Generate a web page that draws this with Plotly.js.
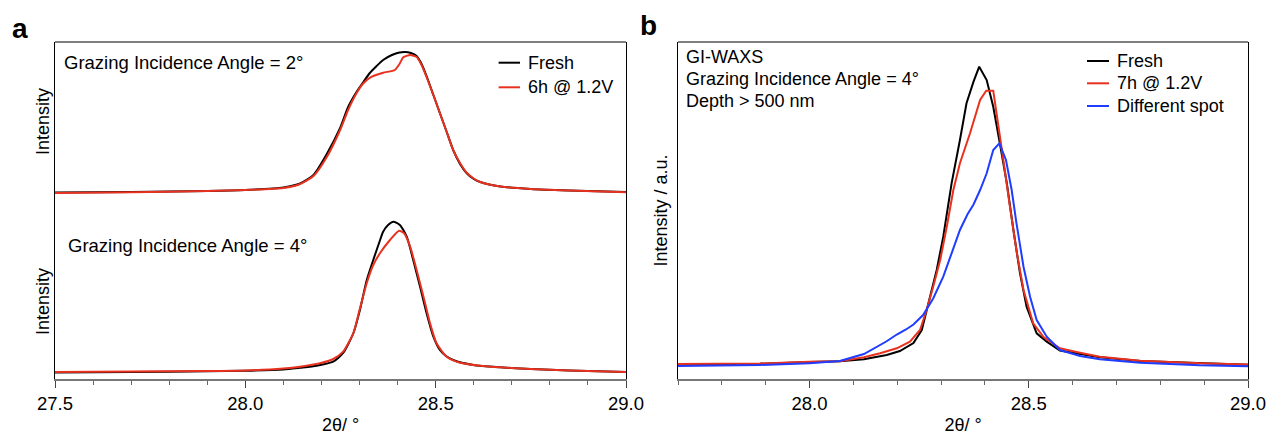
<!DOCTYPE html>
<html>
<head>
<meta charset="utf-8">
<script src="https://cdn.plot.ly/plotly-3.0.1.min.js"></script>
<style>html,body{margin:0;padding:0;background:#fff;}#chart{width:1268px;height:435px;}</style>
</head>
<body>
<div id="chart"></div>
<script>
// ---------- Panel a, grazing incidence angle = 2° (intensity a.u., before offset) ----------
const a2Theta_fresh = [27.50,27.70,27.90,28.00,28.10,28.144,28.179,28.214,28.249,28.270,28.292,28.310,28.327,28.345,28.362,28.385,28.405,28.419,28.435,28.450,28.463,28.476,28.494,28.511,28.529,28.546,28.564,28.581,28.600,28.617,28.670,28.750,28.850,29.00];
const a2Int_fresh   = [-0.5,0,1,2,4.5,8.5,17,38,64,85,100,110,119,126,132,137,139.5,140,139,136,128,116,97,79,60,42,28,19,13,10,5.5,3,1.5,0];
const a2Theta_aged  = [27.50,27.70,27.90,28.00,28.10,28.144,28.179,28.214,28.249,28.270,28.292,28.310,28.332,28.362,28.393,28.405,28.415,28.433,28.450,28.463,28.476,28.494,28.511,28.529,28.546,28.564,28.581,28.600,28.617,28.670,28.750,28.850,29.00];
const a2Int_aged    = [-1,-0.2,1,2,4,8,16,35,62,82,98.7,108.7,115.3,119.3,122,128,134.7,137,135,127,115,97,79,60,42,29,19.5,13.5,10,5.5,3,1.5,-0.2];
const a2Offset = 180.3;

// ---------- Panel a, grazing incidence angle = 4° ----------
const a4Theta_fresh = [27.50,27.70,27.90,28.00,28.10,28.144,28.187,28.231,28.257,28.284,28.301,28.319,28.336,28.354,28.362,28.375,28.389,28.406,28.424,28.441,28.459,28.476,28.494,28.511,28.529,28.546,28.599,28.669,28.750,28.850,29.00];
const a4Int_fresh   = [-0.2,0.3,1,1.5,2.8,4.6,6.6,10.6,19.3,39.3,62.3,92.3,112.3,132.3,140.6,147.3,150.6,147.3,135.6,112.3,85.6,59.3,35.6,22.3,15.8,12.3,7.3,5,3.3,1.8,0.3];
const a4Theta_aged  = [27.50,27.70,27.90,28.00,28.10,28.144,28.196,28.231,28.257,28.284,28.300,28.319,28.336,28.354,28.380,28.404,28.417,28.433,28.450,28.468,28.485,28.502,28.529,28.564,28.617,28.669,28.750,28.850,29.00];
const a4Int_aged    = [0.3,0.8,1.3,1.8,3.8,5.6,9,13.3,20.6,39.3,62.3,89.3,107.3,119.3,132.3,141.6,139,125.6,102.3,75.6,49.3,29.3,15.6,9.6,6.6,5,3.3,1.8,0.3];

// ---------- Panel b, GI-WAXS, angle = 4° ----------
const bTheta_fresh = [27.70,27.80,27.887,28.00,28.069,28.124,28.161,28.176,28.206,28.237,28.256,28.271,28.290,28.305,28.324,28.343,28.358,28.374,28.387,28.404,28.419,28.434,28.450,28.465,28.480,28.495,28.518,28.541,28.555,28.571,28.617,28.662,28.754,28.890,29.00];
const bInt_fresh   = [0.2,0.5,0.8,2.5,3.2,5.2,8.5,9.5,13.5,21.5,34.5,61.2,94.5,127.8,181.2,224.5,261.2,282.8,297.8,284.5,257.8,221.2,181.2,134.5,91.2,57.8,31.2,22.8,18.5,14,10.5,7.2,3.5,1.2,-0.2];
const bTheta_aged  = [27.70,27.80,27.887,28.00,28.069,28.124,28.161,28.199,28.229,28.252,28.267,28.282,28.298,28.313,28.328,28.343,28.366,28.389,28.403,28.419,28.427,28.442,28.457,28.473,28.488,28.510,28.533,28.571,28.617,28.662,28.754,28.890,29.00];
const bInt_aged    = [0.5,0.8,1,2.8,3.2,7.2,11.2,16.2,22.8,34.5,54.5,77.8,104.5,137.8,174.5,201.2,231.2,264.5,273.8,273.8,247.8,204.5,157.8,111.2,74.5,41.2,27.8,16.2,11.8,7.8,3.8,1.2,0];
const bTheta_spot  = [27.70,27.80,27.887,28.00,28.069,28.124,28.150,28.175,28.199,28.220,28.237,28.259,28.282,28.305,28.324,28.343,28.360,28.374,28.389,28.404,28.419,28.433,28.448,28.461,28.472,28.488,28.503,28.518,28.541,28.571,28.617,28.662,28.754,28.890,29.00];
const bInt_spot    = [-1.5,-1,-0.5,1.2,3.5,10.5,17,23,30,35,40,49.5,66,87.8,111.2,134.5,150,160,174.5,191.2,214.5,221.2,204.5,174.5,141.2,97.8,67.8,44.5,27.8,14.5,8.5,5.2,1.8,-0.8,-1.8];

const legendA = ["Fresh", "6h @ 1.2V"];
const legendB = ["Fresh", "7h @ 1.2V", "Different spot"];
const seriesColors = {fresh: "#000000", aged: "#e8321f", spot: "#1f3cff"};

// ---------- geometry helpers (pixel -> paper) ----------
const W = 1268, H = 435;
const px = v => v / W;
const py = v => 1 - v / H;
const FONT = "Liberation Sans, Arial, Helvetica, sans-serif";

const traces = [
  {x: a2Theta_fresh, y: a2Int_fresh.map(v => v + a2Offset), xaxis: "x", yaxis: "y", mode: "lines", line: {color: seriesColors.fresh, width: 2, shape: "spline", smoothing: 0.6}, showlegend: false},
  {x: a2Theta_aged,  y: a2Int_aged.map(v => v + a2Offset),  xaxis: "x", yaxis: "y", mode: "lines", line: {color: seriesColors.aged, width: 2, shape: "spline", smoothing: 0.6}, showlegend: false},
  {x: a4Theta_fresh, y: a4Int_fresh, xaxis: "x", yaxis: "y", mode: "lines", line: {color: seriesColors.fresh, width: 2, shape: "spline", smoothing: 0.6}, showlegend: false},
  {x: a4Theta_aged,  y: a4Int_aged,  xaxis: "x", yaxis: "y", mode: "lines", line: {color: seriesColors.aged, width: 2, shape: "spline", smoothing: 0.6}, showlegend: false},
  {x: bTheta_fresh, y: bInt_fresh, xaxis: "x2", yaxis: "y2", mode: "lines", line: {color: seriesColors.fresh, width: 2}, showlegend: false},
  {x: bTheta_aged,  y: bInt_aged,  xaxis: "x2", yaxis: "y2", mode: "lines", line: {color: seriesColors.aged, width: 2}, showlegend: false},
  {x: bTheta_spot,  y: bInt_spot,  xaxis: "x2", yaxis: "y2", mode: "lines", line: {color: seriesColors.spot, width: 2}, showlegend: false}
];

const yDom = [py(379), py(42)];
const xAxisCommon = {
  showline: true, linecolor: "#777", linewidth: 1.5,
  ticks: "outside", ticklen: 7, tickwidth: 1, tickcolor: "#444",
  dtick: 0.5, tick0: 27.5, tickformat: ".1f",
  minor: {dtick: 0.1, tick0: 27.5, ticks: "outside", ticklen: 4, tickcolor: "#666", showgrid: false},
  showgrid: false, zeroline: false,
  tickfont: {family: FONT, size: 18.5, color: "#000"},
  title: {text: "2θ/ °", font: {family: FONT, size: 18, color: "#000"}, standoff: 8},
  fixedrange: true
};
const yAxisCommon = {
  showline: true, linecolor: "#000", linewidth: 1, mirror: true,
  showticklabels: false, ticks: "", showgrid: false, zeroline: false, fixedrange: true
};

const layout = {
  width: W, height: H,
  margin: {l: 0, r: 0, t: 0, b: 0},
  paper_bgcolor: "#fff", plot_bgcolor: "#fff",
  font: {family: FONT, color: "#000"},
  xaxis: Object.assign({}, xAxisCommon, {domain: [px(55), px(626)], range: [27.5, 29.0], anchor: "y"}),
  yaxis: Object.assign({}, yAxisCommon, {domain: yDom, range: [-6.7, 330.3], anchor: "x"}),
  xaxis2: Object.assign({}, xAxisCommon, {domain: [px(678), px(1248)], range: [27.7, 29.0], anchor: "y2"}),
  yaxis2: Object.assign({}, yAxisCommon, {domain: yDom, range: [-14.5, 322.5], anchor: "x2",
    title: {text: "Intensity / a.u.", font: {family: FONT, size: 18, color: "#000"}, standoff: 4}}),
  shapes: [
    {type: "line", xref: "x domain", yref: "y domain", x0: 0, x1: 1, y0: 1, y1: 1, line: {color: "#000", width: 1}},
    {type: "line", xref: "x2 domain", yref: "y2 domain", x0: 0, x1: 1, y0: 1, y1: 1, line: {color: "#000", width: 1}},
    {type: "line", xref: "paper", yref: "paper", x0: px(498.6), x1: px(520), y0: py(62.7), y1: py(62.7), line: {color: seriesColors.fresh, width: 2}},
    {type: "line", xref: "paper", yref: "paper", x0: px(498.6), x1: px(520), y0: py(87.3), y1: py(87.3), line: {color: seriesColors.aged, width: 2}},
    {type: "line", xref: "paper", yref: "paper", x0: px(1087), x1: px(1109), y0: py(61), y1: py(61), line: {color: seriesColors.fresh, width: 2}},
    {type: "line", xref: "paper", yref: "paper", x0: px(1087), x1: px(1109), y0: py(83.3), y1: py(83.3), line: {color: seriesColors.aged, width: 2}},
    {type: "line", xref: "paper", yref: "paper", x0: px(1087), x1: px(1109), y0: py(106), y1: py(106), line: {color: seriesColors.spot, width: 2}}
  ],
  annotations: [
    {text: "<b>a</b>", xref: "paper", yref: "paper", x: px(10), y: py(28), xanchor: "left", yanchor: "middle", showarrow: false, font: {family: FONT, size: 28, color: "#000"}},
    {text: "<b>b</b>", xref: "paper", yref: "paper", x: px(638), y: py(26), xanchor: "left", yanchor: "middle", showarrow: false, font: {family: FONT, size: 28, color: "#000"}},
    {text: "Grazing Incidence Angle = 2°", xref: "paper", yref: "paper", x: px(62), y: py(62), xanchor: "left", yanchor: "middle", showarrow: false, font: {family: FONT, size: 18.5}},
    {text: "Grazing Incidence Angle = 4°", xref: "paper", yref: "paper", x: px(66), y: py(245), xanchor: "left", yanchor: "middle", showarrow: false, font: {family: FONT, size: 18.5}},
    {text: "Intensity", xref: "paper", yref: "paper", x: px(43), y: py(122), xanchor: "center", yanchor: "middle", textangle: -90, showarrow: false, font: {family: FONT, size: 18}},
    {text: "Intensity", xref: "paper", yref: "paper", x: px(43), y: py(302), xanchor: "center", yanchor: "middle", textangle: -90, showarrow: false, font: {family: FONT, size: 18}},
    {text: legendA[0], xref: "paper", yref: "paper", x: px(526), y: py(62.7), xanchor: "left", yanchor: "middle", showarrow: false, font: {family: FONT, size: 18}},
    {text: legendA[1], xref: "paper", yref: "paper", x: px(526), y: py(87.3), xanchor: "left", yanchor: "middle", showarrow: false, font: {family: FONT, size: 18}},
    {text: "GI-WAXS", xref: "paper", yref: "paper", x: px(684), y: py(57), xanchor: "left", yanchor: "middle", showarrow: false, font: {family: FONT, size: 18}},
    {text: "Grazing Incidence Angle = 4°", xref: "paper", yref: "paper", x: px(684), y: py(79), xanchor: "left", yanchor: "middle", showarrow: false, font: {family: FONT, size: 18}},
    {text: "Depth > 500 nm", xref: "paper", yref: "paper", x: px(684), y: py(101), xanchor: "left", yanchor: "middle", showarrow: false, font: {family: FONT, size: 18}},
    {text: legendB[0], xref: "paper", yref: "paper", x: px(1115), y: py(61), xanchor: "left", yanchor: "middle", showarrow: false, font: {family: FONT, size: 18}},
    {text: legendB[1], xref: "paper", yref: "paper", x: px(1115), y: py(83.3), xanchor: "left", yanchor: "middle", showarrow: false, font: {family: FONT, size: 18}},
    {text: legendB[2], xref: "paper", yref: "paper", x: px(1115), y: py(106), xanchor: "left", yanchor: "middle", showarrow: false, font: {family: FONT, size: 18}}
  ]
};

Plotly.newPlot("chart", traces, layout, {displayModeBar: false, staticPlot: true});
</script>
</body>
</html>
